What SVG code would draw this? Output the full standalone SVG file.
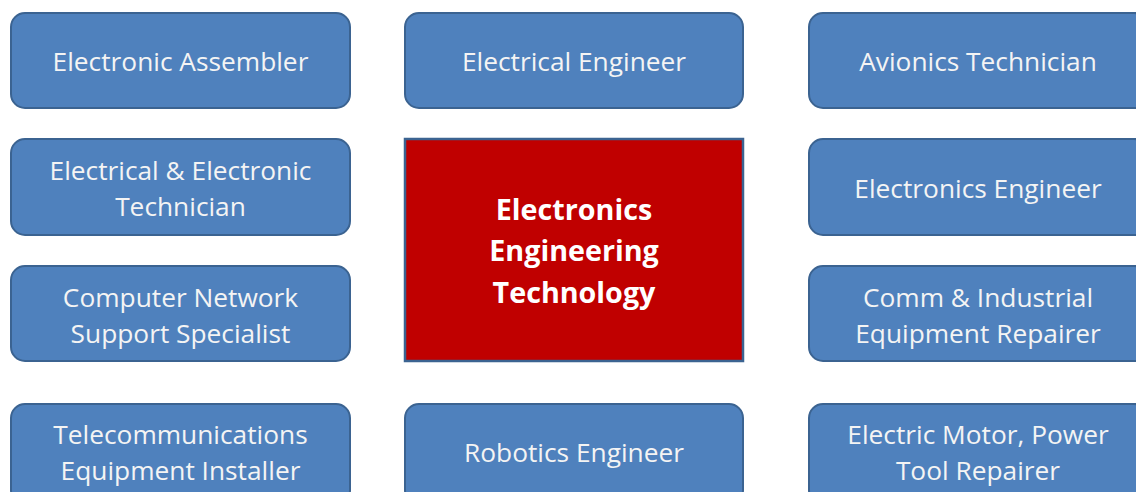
<svg xmlns="http://www.w3.org/2000/svg" width="1136" height="492" viewBox="0 0 1136 492">
<style>
.n{fill:#4f81bd;stroke:#3b6391;stroke-width:2}
.c{fill:#c00000;stroke:#3b6391;stroke-width:2.5}
.t{font-family:"Open Sans","Liberation Sans",sans-serif;font-size:26.3px;fill:#f4f4f4;text-anchor:middle}
.b{font-family:"Open Sans","Liberation Sans",sans-serif;font-size:28.7px;font-weight:bold;fill:#ffffff;text-anchor:middle}
</style>
<rect width="1136" height="492" fill="#ffffff"/>
<g id="connectors"></g>
<g id="n1"><rect class="n" x="11" y="13" width="339" height="95" rx="14"/><text class="t" x="180.5" y="70.5">Electronic Assembler</text></g>
<g id="n2"><rect class="n" x="405" y="13" width="338" height="95" rx="14"/><text class="t" x="574" y="70.5">Electrical Engineer</text></g>
<g id="n3"><rect class="n" x="809" y="13" width="339" height="95" rx="14"/><text class="t" x="978" y="70.5">Avionics Technician</text></g>
<g id="n4"><rect class="n" x="11" y="139" width="339" height="96" rx="14"/><text class="t" x="180.5" y="179.5">Electrical &amp; Electronic</text><text class="t" x="180.5" y="216">Technician</text></g>
<g id="n5"><rect class="c" x="405" y="139" width="338" height="222"/><text class="b" x="574" y="220">Electronics</text><text class="b" x="574" y="261">Engineering</text><text class="b" x="574" y="302.5">Technology</text></g>
<g id="n6"><rect class="n" x="809" y="139" width="339" height="96" rx="14"/><text class="t" x="978" y="197.5">Electronics Engineer</text></g>
<g id="n7"><rect class="n" x="11" y="266" width="339" height="95" rx="14"/><text class="t" x="180.5" y="306.5">Computer Network</text><text class="t" x="180.5" y="343">Support Specialist</text></g>
<g id="n8"><rect class="n" x="809" y="266" width="339" height="95" rx="14"/><text class="t" x="978" y="306.5">Comm &amp; Industrial</text><text class="t" x="978" y="343">Equipment Repairer</text></g>
<g id="n9"><rect class="n" x="11" y="404" width="339" height="100" rx="14"/><text class="t" x="180.5" y="443.5">Telecommunications</text><text class="t" x="180.5" y="480">Equipment Installer</text></g>
<g id="n10"><rect class="n" x="405" y="404" width="338" height="100" rx="14"/><text class="t" x="574" y="461.5">Robotics Engineer</text></g>
<g id="n11"><rect class="n" x="809" y="404" width="339" height="100" rx="14"/><text class="t" x="978" y="443.5">Electric Motor, Power</text><text class="t" x="978" y="480">Tool Repairer</text></g>
</svg>
